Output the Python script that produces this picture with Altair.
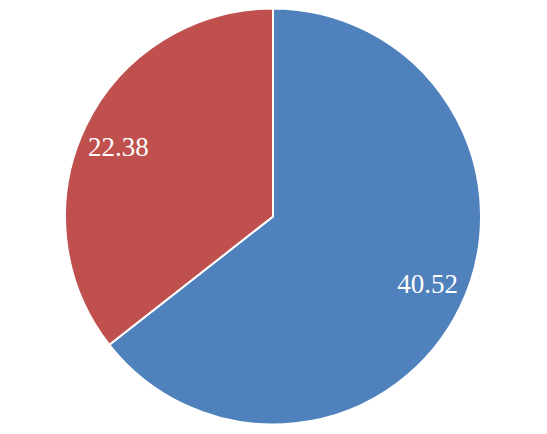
import altair as alt
import pandas as pd

categories = ["A", "B"]
values = [40.52, 22.38]
colors = ["#4F81BD", "#C0504D"]
order = [0, 1]

df = pd.DataFrame({"cat": categories, "value": values, "ord": order,
                   "label": [f"{v:.2f}" for v in values]})

cx, cy = 265, 208.5

base = alt.Chart(df).encode(
    theta=alt.Theta("value:Q", stack=True),
    order=alt.Order("ord:Q"),
)

pie = base.mark_arc(outerRadius=208, stroke="white", strokeWidth=2).encode(
    color=alt.Color("cat:N", scale=alt.Scale(domain=categories, range=colors), legend=None),
    x=alt.value(cx), y=alt.value(cy),
)

text = base.mark_text(radius=169, thetaOffset=-0.038, font="Liberation Serif",
                      fontSize=27, color="white").encode(
    text="label:N",
    x=alt.value(cx), y=alt.value(cy),
)

chart = (pie + text).properties(
    width=531, height=418,
    autosize=alt.AutoSizeParams(type="none"),
    padding=0,
).configure_view(stroke=None)

chart.save("out.html", embed_options={"renderer": "svg", "actions": False})
